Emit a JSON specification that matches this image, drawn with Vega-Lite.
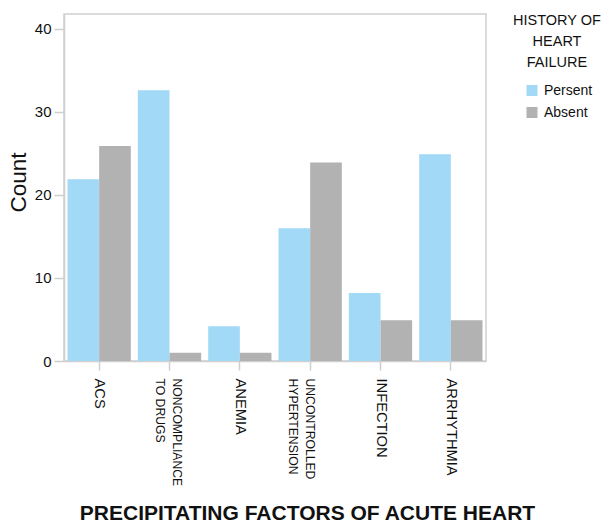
{
  "$schema": "https://vega.github.io/schema/vega-lite/v6.json",
  "autosize": "none",
  "width": 422,
  "height": 347,
  "padding": {"left": 64, "top": 14, "right": 117, "bottom": 164},
  "config": {
    "font": "Liberation Sans",
    "view": {"stroke": "#cfcfcf", "strokeWidth": 1.5},
    "axis": {"grid": false, "domainColor": "#cfcfcf", "domainWidth": 1.5, "tickColor": "#cfcfcf", "tickWidth": 1.5, "labelColor": "#111", "titleColor": "#111"}
  },
  "data": {
    "values": [
      {"factor": "ACS", "hf": "Persent", "count": 21.9},
      {"factor": "ACS", "hf": "Absent", "count": 25.9},
      {"factor": "NONCOMPLIANCE TO DRUGS", "hf": "Persent", "count": 32.6},
      {"factor": "NONCOMPLIANCE TO DRUGS", "hf": "Absent", "count": 1},
      {"factor": "ANEMIA", "hf": "Persent", "count": 4.2},
      {"factor": "ANEMIA", "hf": "Absent", "count": 1},
      {"factor": "UNCONTROLLED HYPERTENSION", "hf": "Persent", "count": 16},
      {"factor": "UNCONTROLLED HYPERTENSION", "hf": "Absent", "count": 23.9},
      {"factor": "INFECTION", "hf": "Persent", "count": 8.2},
      {"factor": "INFECTION", "hf": "Absent", "count": 4.9},
      {"factor": "ARRHYTHMIA", "hf": "Persent", "count": 24.9},
      {"factor": "ARRHYTHMIA", "hf": "Absent", "count": 4.9}
    ]
  },
  "mark": {"type": "bar"},
  "encoding": {
    "x": {
      "field": "factor",
      "type": "nominal",
      "sort": null,
      "scale": {"paddingInner": 0.1, "paddingOuter": 0.05},
      "axis": {
        "title": "PRECIPITATING FACTORS OF ACUTE HEART",
        "titleFontSize": 21,
        "titleFontWeight": "bold",
        "titleAnchor": "start",
        "titleAlign": "center",
        "titleBaseline": "alphabetic",
        "titleX": 243,
        "titleY": 158,
        "labelAngle": 90,
        "labelFontSize": {"condition": {"test": "indexof(datum.label, ' ') >= 0", "value": 12.2}, "value": 14.7},
        "labelOffset": {"condition": {"test": "datum.value == 'NONCOMPLIANCE TO DRUGS'", "value": 7}, "value": 0},
        "labelPadding": 8,
        "tickSize": 9,
        "labelLimit": 0,
        "labelExpr": "datum.value == 'NONCOMPLIANCE TO DRUGS' ? ['NONCOMPLIANCE', 'TO DRUGS'] : datum.value == 'UNCONTROLLED HYPERTENSION' ? ['UNCONTROLLED', 'HYPERTENSION'] : datum.value",
        "labelLineHeight": 17
      }
    },
    "xOffset": {"field": "hf", "type": "nominal", "sort": ["Persent", "Absent"], "scale": {"paddingInner": 0, "paddingOuter": 0}},
    "y": {
      "field": "count",
      "type": "quantitative",
      "scale": {"domain": [0, 41.8], "nice": false},
      "axis": {"title": "Count", "titleFontSize": 22.5, "titleFontWeight": "normal", "titlePadding": 4, "titleY": 168, "values": [0, 10, 20, 30, 40], "labelFontSize": 15, "tickSize": 10, "labelPadding": 3}
    },
    "color": {
      "field": "hf",
      "type": "nominal",
      "sort": ["Persent", "Absent"],
      "scale": {"domain": ["Persent", "Absent"], "range": ["#a1d9f6", "#b2b2b2"]},
      "legend": {
        "title": ["HISTORY OF", "HEART", "FAILURE"],
        "orient": "none",
        "legendX": 449,
        "legendY": 0,
        "titleFontSize": 14.5,
        "titleFontWeight": "normal",
        "titleColor": "#111",
        "titleLineHeight": 21,
        "titleAlign": "center",
        "titleAnchor": "middle",
        "titlePadding": 13,
        "symbolType": "square",
        "symbolSize": 121,
        "symbolStrokeWidth": 0,
        "symbolOffset": 3,
        "labelFontSize": 14,
        "labelColor": "#111",
        "labelOffset": 5,
        "rowPadding": 8
      }
    }
  }
}
